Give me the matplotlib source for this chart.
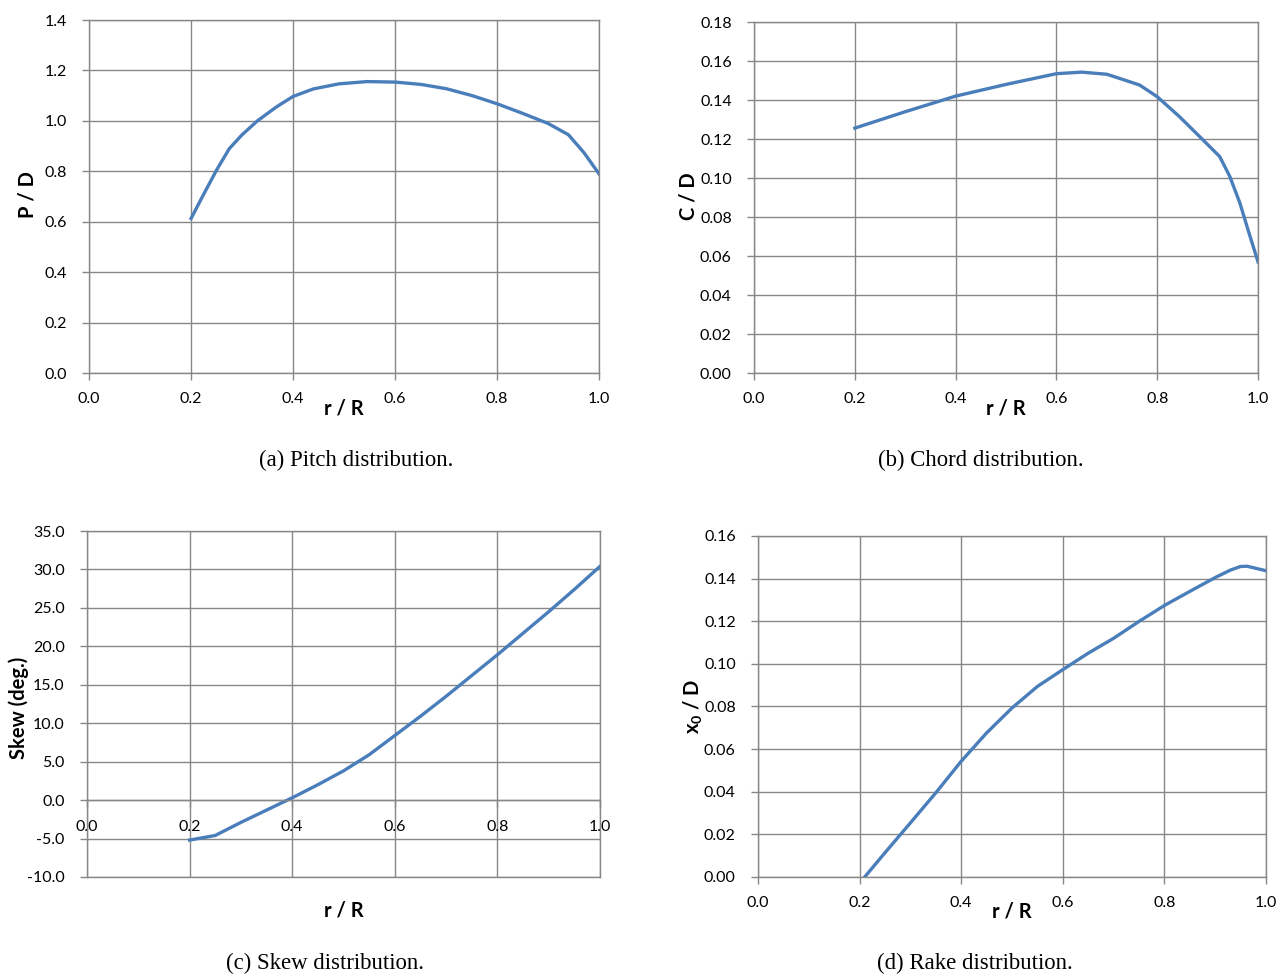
import matplotlib
matplotlib.use("Agg")
import matplotlib.pyplot as plt
from matplotlib.ticker import FormatStrFormatter, MultipleLocator

plt.rcParams['font.family'] = ['Lato', 'DejaVu Sans']
plt.rcParams['axes.unicode_minus'] = False
plt.rcParams['mathtext.fontset'] = 'custom'
plt.rcParams['mathtext.bf'] = 'Lato:bold'
plt.rcParams['mathtext.rm'] = 'Lato'

# pitch distribution
r_pitch = [0.20, 0.225, 0.25, 0.275, 0.30, 0.33, 0.367, 0.40, 0.44, 0.49, 0.545,
           0.60, 0.65, 0.70, 0.75, 0.80, 0.85, 0.90, 0.94, 0.97, 1.00]
pitch = [0.613, 0.71, 0.805, 0.89, 0.945, 1.0, 1.055, 1.097, 1.127, 1.147, 1.156,
         1.154, 1.145, 1.128, 1.101, 1.068, 1.030, 0.990, 0.945, 0.875, 0.79]

# chord distribution
r_chord = [0.20, 0.30, 0.40, 0.50, 0.60, 0.65, 0.70, 0.725, 0.765, 0.80, 0.844,
           0.891, 0.924, 0.944, 0.964, 0.98, 1.00]
chord = [0.1256, 0.134, 0.142, 0.148, 0.1535, 0.1543, 0.1532, 0.1511, 0.1477, 0.1417,
         0.1315, 0.1195, 0.111, 0.1008, 0.0872, 0.0736, 0.0570]

# skew distribution
r_skew = [0.20, 0.25, 0.30, 0.35, 0.40, 0.45, 0.50, 0.55, 0.60, 0.65, 0.70,
          0.75, 0.80, 0.85, 0.90, 0.95, 1.00]
skew = [-5.2, -4.6, -2.9, -1.3, 0.3, 2.0, 3.8, 5.9, 8.4, 10.9, 13.5,
        16.2, 18.9, 21.7, 24.5, 27.4, 30.4]

# rake distribution
r_rake = [0.21, 0.25, 0.30, 0.35, 0.40, 0.45, 0.50, 0.55, 0.60, 0.65, 0.70,
          0.75, 0.80, 0.85, 0.90, 0.93, 0.95, 0.963, 1.00]
rake = [0.0, 0.0114, 0.0254, 0.0395, 0.0543, 0.0676, 0.0793, 0.0894, 0.0973, 0.105,
        0.112, 0.1199, 0.1274, 0.134, 0.1405, 0.1440, 0.1457, 0.1458, 0.1437]

line_col = '#4A7EBB'
grid_col = '#878787'
label_size = 14.5
caption_size = 16.4

fig = plt.figure(figsize=(12.85, 9.74), dpi=100)


def style_axes(ax, ylim, ystep, yfmt):
    ax.set_xlim(0, 1.0)
    ax.set_ylim(*ylim)
    ax.xaxis.set_major_locator(MultipleLocator(0.2))
    ax.yaxis.set_major_locator(MultipleLocator(ystep))
    ax.xaxis.set_major_formatter(FormatStrFormatter('%.1f'))
    ax.yaxis.set_major_formatter(FormatStrFormatter(yfmt))
    ax.grid(True, color=grid_col, linewidth=1.0)
    ax.set_axisbelow(True)
    for s in ax.spines.values():
        s.set_color(grid_col)
        s.set_linewidth(1.0)
    ax.tick_params(axis='both', colors=grid_col, length=5, width=1.0,
                   labelcolor='black', labelsize=11.5)
    ax.tick_params(axis='y', pad=11)
    ax.tick_params(axis='x', pad=9)


def put_ylabel(ax, text, xpos, ypos=0.5):
    ax.set_ylabel(text, fontweight='bold', fontsize=label_size, va='center')
    ax.yaxis.set_label_coords(xpos, ypos)


# (a) pitch
ax1 = fig.add_axes([0.0693, 0.6170, 0.3969, 0.3624])
ax1.plot(r_pitch, pitch, color=line_col, lw=2.4)
style_axes(ax1, (0, 1.4), 0.2, '%.1f')
put_ylabel(ax1, 'P / D', -0.12, 0.505)
ax1.text(0.5, -0.10, 'r / R', transform=ax1.transAxes, ha='center', va='center',
         fontweight='bold', fontsize=label_size)
fig.text(356 / 1285, 1 - 460 / 974, '(a) Pitch distribution.', ha='center', va='center',
         family='Liberation Serif', fontsize=caption_size)

# (b) chord
ax2 = fig.add_axes([0.5868, 0.6170, 0.3922, 0.3604])
ax2.plot(r_chord, chord, color=line_col, lw=2.4)
style_axes(ax2, (0, 0.18), 0.02, '%.2f')
put_ylabel(ax2, 'C / D', -0.131, 0.505)
ax2.text(0.5, -0.10, 'r / R', transform=ax2.transAxes, ha='center', va='center',
         fontweight='bold', fontsize=label_size)
fig.text(981 / 1285, 1 - 460 / 974, '(b) Chord distribution.', ha='center', va='center',
         family='Liberation Serif', fontsize=caption_size)

# (c) skew
ax3 = fig.add_axes([0.0677, 0.0996, 0.3992, 0.3552])
ax3.plot(r_skew, skew, color=line_col, lw=2.4)
style_axes(ax3, (-10, 35), 5, '%.1f')
ax3.spines['bottom'].set_position(('data', 0))
ax3.axhline(-10, color=grid_col, lw=1.0, clip_on=False, zorder=0.5)
put_ylabel(ax3, 'Skew (deg.)', -0.134, 0.49)
ax3.text(0.5, -0.097, 'r / R', transform=ax3.transAxes, ha='center', va='center',
         fontweight='bold', fontsize=label_size)
fig.text(325 / 1285, 1 - 963 / 974, '(c) Skew distribution.', ha='center', va='center',
         family='Liberation Serif', fontsize=caption_size)

# (d) rake
ax4 = fig.add_axes([0.5899, 0.0996, 0.3953, 0.3501])
ax4.plot(r_rake, rake, color=line_col, lw=2.4)
style_axes(ax4, (0, 0.16), 0.02, '%.2f')
put_ylabel(ax4, r'$\mathbf{x_0}$ / D', -0.128, 0.5)
ax4.text(0.5, -0.10, 'r / R', transform=ax4.transAxes, ha='center', va='center',
         fontweight='bold', fontsize=label_size)
fig.text(975 / 1285, 1 - 963 / 974, '(d) Rake distribution.', ha='center', va='center',
         family='Liberation Serif', fontsize=caption_size)

fig.savefig('out.png', dpi=100)
